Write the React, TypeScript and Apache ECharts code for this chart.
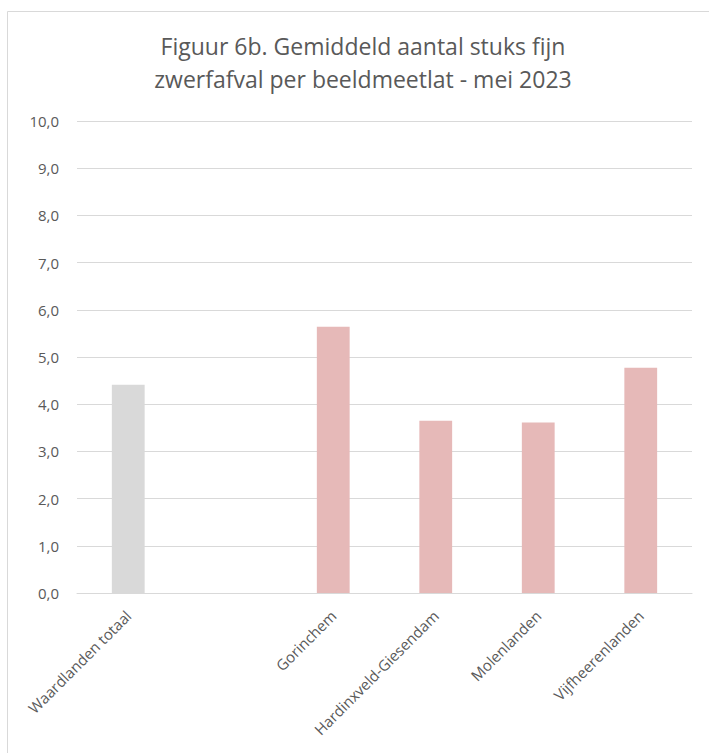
import React, { useEffect, useRef } from "react";
import * as echarts from "echarts";

const categories = [
  "Waardlanden totaal",
  "",
  "Gorinchem",
  "Hardinxveld-Giesendam",
  "Molenlanden",
  "Vijfheerenlanden",
];
const values: (number | null)[] = [4.41, null, 5.64, 3.65, 3.61, 4.77];
const barColors = ["#d9d9d9", "#d9d9d9", "#e6b9b8", "#e6b9b8", "#e6b9b8", "#e6b9b8"];
const titleText = "Figuur 6b. Gemiddeld aantal stuks fijn\nzwerfafval per beeldmeetlat - mei 2023";

export default function App() {
  const ref = useRef<HTMLDivElement>(null);
  useEffect(() => {
    if (!ref.current) return;
    const chart = echarts.init(ref.current, undefined, { renderer: "svg" });
    const font = "Open Sans";
    chart.setOption({
      animation: false,
      backgroundColor: "#ffffff",
      title: {
        text: titleText,
        left: 358,
        textAlign: "center",
        top: 24,
        textStyle: {
          fontFamily: font,
          fontSize: 23,
          fontWeight: "normal",
          color: "#595959",
          lineHeight: 33,
        },
      },
      graphic: [
        {
          type: "rect",
          shape: { x: 7.5, y: 11.5, width: 760, height: 800 },
          style: { fill: "none", stroke: "#d9d9d9", lineWidth: 1 },
          silent: true,
        },
      ],
      grid: { left: 77, right: 17, top: 121, bottom: 160 },
      xAxis: {
        type: "category",
        data: categories,
        axisTick: { show: false },
        axisLine: { lineStyle: { color: "#d9d9d9", width: 1 } },
        axisLabel: {
          interval: 0,
          rotate: 45,
          fontFamily: font,
          fontSize: 15,
          color: "#595959",
          margin: 20,
        },
      },
      yAxis: {
        type: "value",
        min: 0,
        max: 10,
        interval: 1,
        axisLine: { show: false },
        axisTick: { show: false },
        splitLine: { lineStyle: { color: "#d9d9d9", width: 1 } },
        axisLabel: {
          fontFamily: font,
          fontSize: 15,
          color: "#595959",
          margin: 18,
          formatter: (v: number) => v.toFixed(1).replace(".", ","),
        },
      },
      series: [
        {
          type: "bar",
          barWidth: "32%",
          data: values.map((v, i) => ({ value: v, itemStyle: { color: barColors[i] } })),
        },
      ],
    });
    return () => chart.dispose();
  }, []);
  return (
    <div
      ref={ref}
      style={{ position: "absolute", left: 0, top: 0, width: 709, height: 753 }}
    />
  );
}
